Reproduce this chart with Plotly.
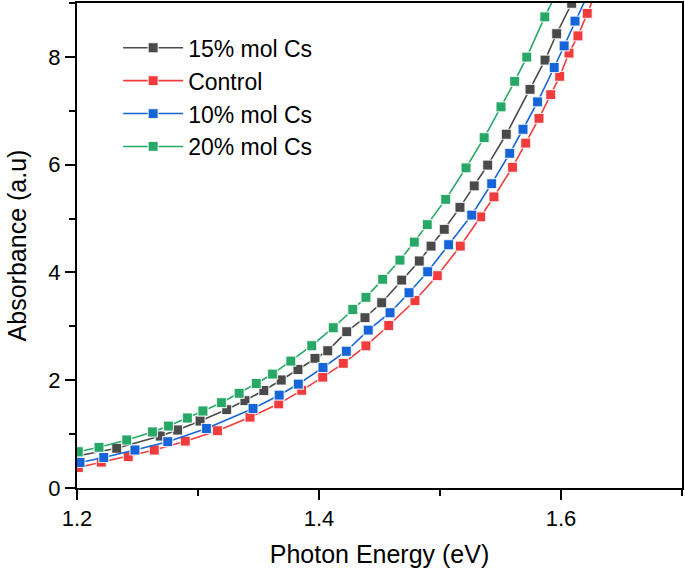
import plotly.graph_objects as go

# 15% mol Cs
e_15 = [1.2002, 1.2328, 1.2688, 1.2831, 1.3017, 1.3237, 1.3388, 1.3544, 1.3688, 1.3826,
        1.3967, 1.4072, 1.4229, 1.4380, 1.4518, 1.4683, 1.4829, 1.4926, 1.5035, 1.5165,
        1.5283, 1.5394, 1.5548, 1.5744, 1.5868, 1.5964, 1.6088, 1.6200]
a_15 = [0.594, 0.737, 0.965, 1.076, 1.243, 1.456, 1.623, 1.809, 2.004, 2.199,
        2.406, 2.547, 2.900, 3.160, 3.438, 3.859, 4.212, 4.490, 4.800, 5.208,
        5.607, 5.993, 6.564, 7.397, 7.941, 8.429, 8.993, 9.500]

# Control
e_ctrl = [1.2011, 1.2201, 1.2424, 1.2639, 1.2895, 1.3161, 1.3430, 1.3667, 1.3857, 1.4031,
          1.4201, 1.4388, 1.4576, 1.4793, 1.4978, 1.5168, 1.5336, 1.5446, 1.5599, 1.5708,
          1.5818, 1.5915, 1.5989, 1.6066, 1.6140, 1.6217, 1.6300]
a_ctrl = [0.380, 0.479, 0.581, 0.705, 0.868, 1.063, 1.314, 1.562, 1.811, 2.056,
          2.314, 2.638, 3.015, 3.479, 3.942, 4.490, 5.033, 5.404, 5.950, 6.401,
          6.859, 7.301, 7.638, 8.071, 8.390, 8.807, 9.250]

# 10% mol Cs
e_10 = [1.2025, 1.2221, 1.2479, 1.2750, 1.3070, 1.3455, 1.3671, 1.3829, 1.4033, 1.4226,
        1.4407, 1.4587, 1.4744, 1.4898, 1.5071, 1.5262, 1.5427, 1.5576, 1.5686, 1.5806,
        1.5944, 1.6026, 1.6116, 1.6250]
a_10 = [0.473, 0.566, 0.705, 0.859, 1.104, 1.475, 1.722, 1.929, 2.236, 2.538,
        2.931, 3.252, 3.623, 4.013, 4.514, 5.065, 5.647, 6.210, 6.657, 7.167,
        7.803, 8.204, 8.664, 9.300]

# 20% mol Cs
e_20 = [1.2011, 1.2182, 1.2411, 1.2624, 1.2756, 1.2913, 1.3041, 1.3194, 1.3340, 1.3482,
        1.3616, 1.3767, 1.3940, 1.4118, 1.4279, 1.4388, 1.4526, 1.4669, 1.4788, 1.4895,
        1.5047, 1.5215, 1.5365, 1.5504, 1.5617, 1.5717, 1.5866, 1.6000]
a_20 = [0.673, 0.755, 0.891, 1.039, 1.150, 1.299, 1.429, 1.583, 1.757, 1.939,
        2.115, 2.356, 2.640, 2.974, 3.312, 3.538, 3.872, 4.230, 4.564, 4.889,
        5.356, 5.942, 6.503, 7.072, 7.545, 7.996, 8.744, 9.350]

series = [
    ("15% mol Cs", e_15, a_15, "#4a4a4a"),
    ("Control", e_ctrl, a_ctrl, "#f03c3c"),
    ("10% mol Cs", e_10, a_10, "#1565d8"),
    ("20% mol Cs", e_20, a_20, "#27a866"),
]

fig = go.Figure()
for name, xs, ys, col in series:
    fig.add_trace(go.Scatter(
        x=xs, y=ys, name=name, mode="lines+markers",
        line=dict(color=col, width=1.6),
        marker=dict(symbol="square", size=10, color=col,
                    line=dict(color="rgba(255,255,255,0.8)", width=1.2)),
    ))

font = "Arial, Liberation Sans, sans-serif"
axis_common = dict(
    showline=True, linecolor="black", linewidth=2, mirror=True,
    ticks="outside", ticklen=10, tickwidth=2, tickcolor="black",
    showgrid=False, zeroline=False, automargin=False,
    tickfont=dict(family=font, size=22, color="black"),
)
fig.update_xaxes(
    range=[1.2, 1.7], dtick=0.2, tick0=1.2, tickformat=".1f",
    minor=dict(dtick=0.1, ticklen=6, tickwidth=2, tickcolor="black", ticks="outside"),
    title=dict(text="Photon Energy (eV)", font=dict(family=font, size=25, color="black")),
    **axis_common,
)
fig.update_yaxes(
    range=[0, 9], dtick=2, tick0=0,
    minor=dict(dtick=1, ticklen=6, tickwidth=2, tickcolor="black", ticks="outside"),
    title=dict(text="Absorbance (a.u)", font=dict(family=font, size=25, color="black")),
    **axis_common,
)
fig.update_layout(
    width=685, height=568,
    margin=dict(l=77, r=3, t=3, b=80),
    plot_bgcolor="white", paper_bgcolor="white",
    font=dict(family=font, color="black"),
    legend=dict(x=0.068, y=0.952, xanchor="left", yanchor="top",
                bgcolor="rgba(0,0,0,0)", itemwidth=60,
                font=dict(family=font, size=23, color="black"),
                tracegroupgap=0),
    showlegend=True,
)
fig.write_html("out.html", config={"displayModeBar": False},
               post_script="document.body.style.margin='0';")
